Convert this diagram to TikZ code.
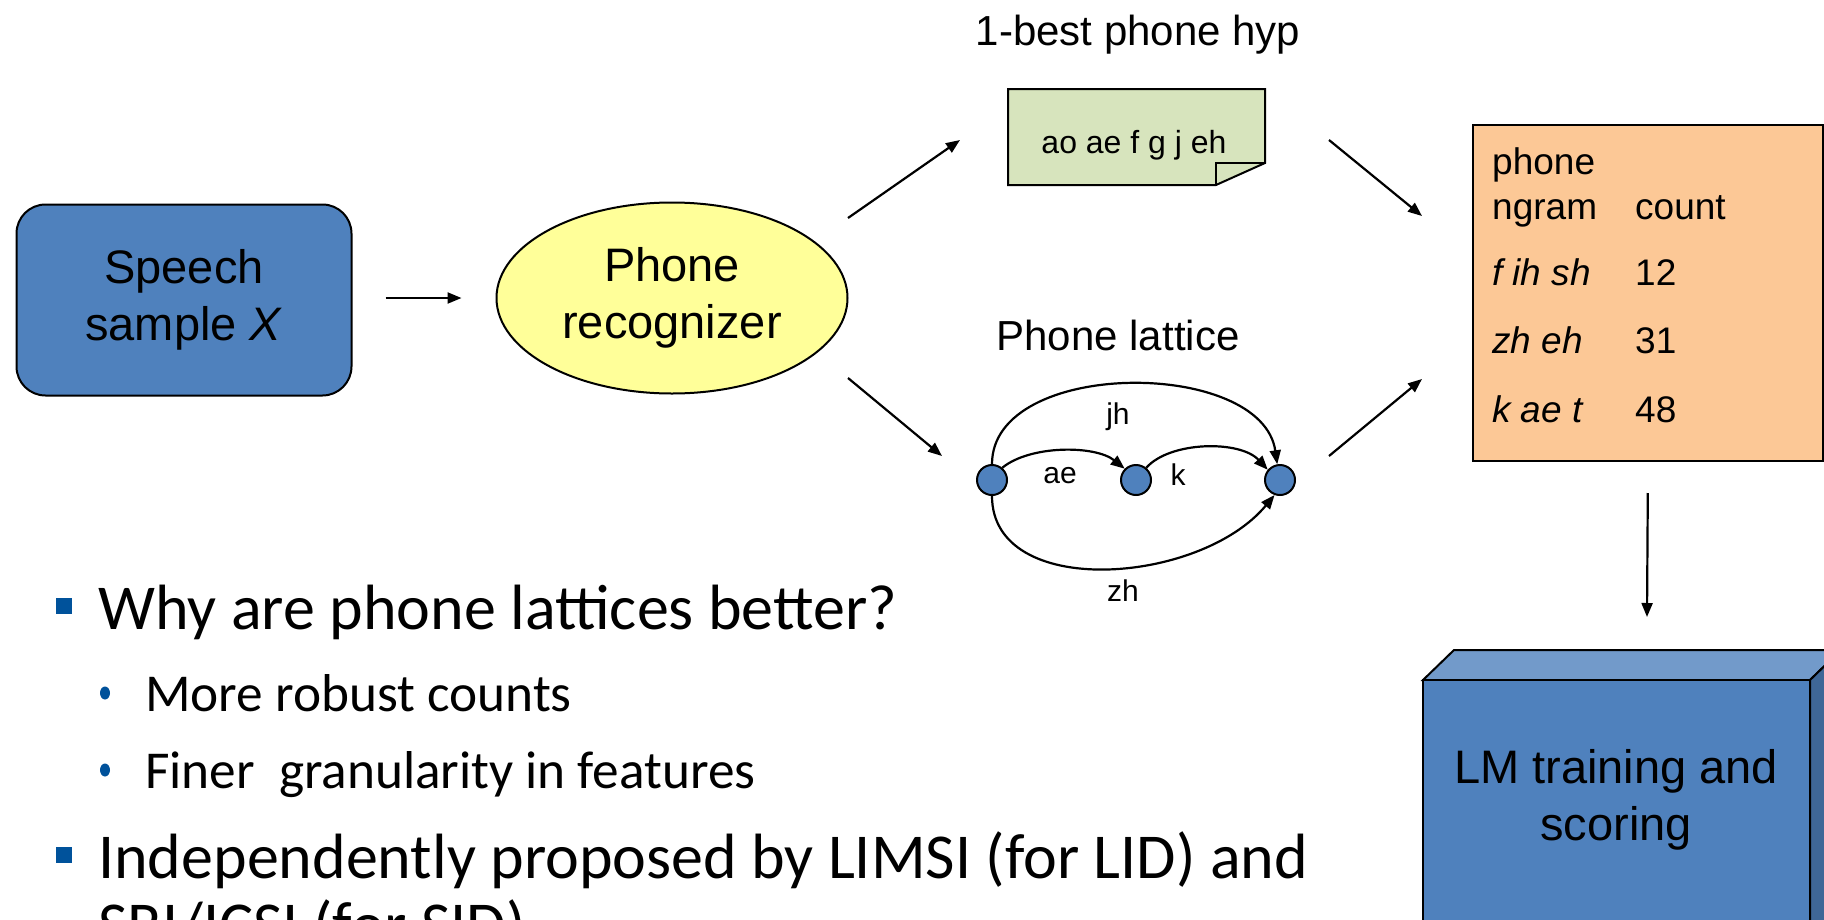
\documentclass[tikz,border=0pt]{standalone}
\usepackage{fontspec}
\setmainfont{Liberation Sans}
\newfontfamily\bulletfont{Carlito}
\usetikzlibrary{shapes.geometric,arrows.meta}
\definecolor{boxblue}{RGB}{79,129,189}
\definecolor{ellyellow}{RGB}{255,255,153}
\definecolor{notegreen}{RGB}{215,228,189}
\definecolor{tableorange}{RGB}{252,200,150}
\definecolor{lmtop}{RGB}{114,154,202}
\definecolor{lmside}{RGB}{63,103,151}
\definecolor{bulletblue}{RGB}{0,82,155}
\tikzset{
  arr/.style={line width=2.2pt,-{Triangle[length=14pt,width=11pt]}},
  latarr/.style={line width=2.2pt,-{Triangle[length=14pt,width=11pt]}},
  bigtxt/.style={font=\fontsize{47}{57}\selectfont,align=center},
  midtxt/.style={font=\fontsize{42}{50}\selectfont,inner sep=0pt},
  tabtxt/.style={font=\fontsize{37}{44}\selectfont,inner sep=0pt,anchor=base west},
  smalltxt/.style={font=\fontsize{30}{36}\selectfont,inner sep=0pt},
  latnode/.style={circle,draw,line width=2pt,fill=boxblue,minimum size=30pt,inner sep=0pt},
  lvlone/.style={font=\bulletfont\fontsize{64}{77}\selectfont,inner sep=0pt,anchor=base west},
  lvltwo/.style={font=\bulletfont\fontsize{53.3}{64}\selectfont,inner sep=0pt,anchor=base west},
}
\begin{document}
\begin{tikzpicture}[x=1pt,y=-1pt]
\useasboundingbox (0,0) rectangle (1824,919);
\fill[white] (0,0) rectangle (1824,919);

% speech sample
\node[draw,line width=2pt,fill=boxblue,rounded corners=29pt,minimum width=335pt,minimum height=191pt,bigtxt] (speech) at (184,300) {Speech\\sample \textit{X}};
% phone recognizer
\node[draw,ellipse,line width=2pt,fill=ellyellow,minimum width=351pt,minimum height=191pt,inner sep=0pt,bigtxt] (rec) at (672,298) {Phone\\recognizer};
\draw[arr,shorten <=33pt,shorten >=34pt] (speech.east |- rec.west) -- (rec.west);

% 1-best hyp
\node[midtxt,anchor=base] (besttitle) at (1138,45) {1-best phone hyp};
\draw[line width=2pt,fill=notegreen] (1008,89) -- (1265,89) -- (1265,163) -- (1216,185) -- (1008,185) -- cycle;
\draw[line width=2pt] (1216,185) -- (1216,163) -- (1265,163);
\node[smalltxt,font=\fontsize{32}{38}\selectfont] (hyp) at (1134,145) {ao ae f g j eh};

% arrows from recognizer
\coordinate (u1) at (848,218); \coordinate (u2) at (960,140);
\coordinate (d1) at (848,378); \coordinate (d2) at (942,456);
\draw[arr] (u1) -- (u2);
\draw[arr] (d1) -- (d2);

% lattice
\node[midtxt,anchor=base] (lattitle) at (1118,350) {Phone lattice};
\node[latnode] (l) at (992,480) {};
\node[latnode] (m) at (1136,480) {};
\node[latnode] (r) at (1280,480) {};
\draw[latarr] (l.north) .. controls (992,358) and (1262,358) .. (r.100);
\draw[latarr] (l.50) .. controls (1030,445) and (1095,445) .. (m.135);
\draw[latarr] (m.50) .. controls (1170,441) and (1240,440) .. (r.140);
\draw[latarr] (l.south) .. controls (992,600) and (1200,585) .. (r.250);
\node[smalltxt] (jh) at (1118,417) {jh};
\node[smalltxt] (ae) at (1060,476) {ae};
\node[smalltxt] (k) at (1178,475) {k};
\node[smalltxt] (zh) at (1123,591) {zh};

% table
\node[draw,line width=2pt,fill=tableorange,minimum width=350pt,minimum height=336pt,inner sep=0pt,anchor=north west] (table) at (1472,124) {};
\node[tabtxt] (t1) at (1492,174) {phone};
\node[tabtxt] (t2) at (1492,219) {ngram};
\node[tabtxt] (t3) at (1635,219) {count};
\node[tabtxt] (t4) at (1492,285) {\itshape f ih sh};
\node[tabtxt] (t5) at (1635,285) {12};
\node[tabtxt] (t6) at (1492,353) {\itshape zh eh};
\node[tabtxt] (t7) at (1635,353) {31};
\node[tabtxt] (t8) at (1492,422) {\itshape k ae t};
\node[tabtxt] (t9) at (1635,422) {48};

\coordinate (n1) at (1329,140); \coordinate (n2) at (1422,216);
\coordinate (p1) at (1329,456); \coordinate (p2) at (1422,379);
\draw[arr] (n1) -- (n2);
\draw[arr] (p1) -- (p2);

% LM box
\draw[line width=2pt,fill=lmtop] (1423,680) -- (1454,650) -- (1841,650) -- (1810,680) -- cycle;
\draw[line width=2pt,fill=lmside] (1810,680) -- (1841,650) -- (1841,990) -- (1810,1020) -- cycle;
\draw[line width=2pt,fill=boxblue] (1423,680) rectangle (1810,1020);
\coordinate (lmtopc) at (1647,617);
\node[bigtxt] (lm) at (1616,800) {LM training and\\scoring};
\draw[arr,shorten <=31pt] (table.south) -- (lmtopc);

% bullets
\fill[bulletblue] (56,598) rectangle (72,614);
\node[lvlone] (b1) at (98,629) {Why are phone lattices better?};
\fill[bulletblue] (105,693) ellipse (5pt and 6.5pt);
\node[lvltwo] (s1) at (145,711) {More robust counts};
\fill[bulletblue] (105,770) ellipse (5pt and 6.5pt);
\node[lvltwo] (s2) at (145,788) {Finer\ \ granularity in features};
\fill[bulletblue] (56,847) rectangle (72,863);
\node[lvlone] (b2) at (98,878) {Independently proposed by LIMSI (for LID) and};
\node[lvlone] (b3) at (98,946) {SRI/ICSI (for SID)};
\end{tikzpicture}
\end{document}
